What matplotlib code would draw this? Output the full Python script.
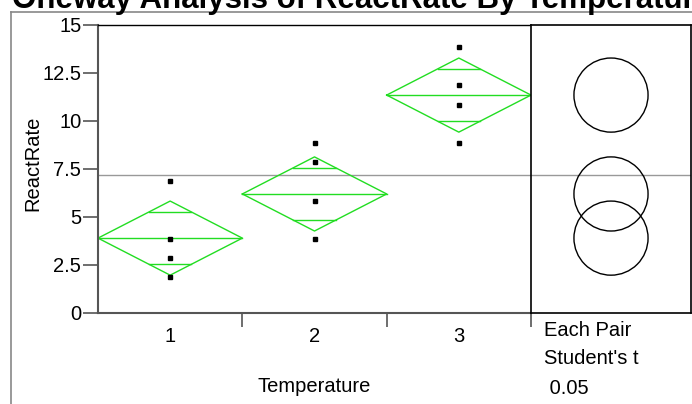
import matplotlib.pyplot as plt
from matplotlib.lines import Line2D
from matplotlib.patches import Circle
import numpy as np

plt.rcParams['font.family'] = ['Liberation Sans', 'DejaVu Sans']

# Data
groups = ['1', '2', '3']
group_points = [
    [6.85, 3.85, 2.85, 1.85],
    [8.85, 7.85, 5.85, 3.85],
    [13.85, 11.85, 10.85, 8.85],
]
group_means = [3.9, 6.2, 11.35]
ci_half = 1.93
grand_mean = 7.2
yticks = [0, 2.5, 5, 7.5, 10, 12.5, 15]
ytick_labels = ['0', '2.5', '5', '7.5', '10', '12.5', '15']

W, H = 692, 404
fig = plt.figure(figsize=(W / 100, H / 100), dpi=100)

green = '#22dd22'
fs = 14.5

# main plot area
ax = fig.add_axes([98 / W, (H - 313) / H, (531 - 98) / W, 288 / H])
ax.set_xlim(0.5, 3.5)
ax.set_ylim(0, 15)

for i, (pts, m) in enumerate(zip(group_points, group_means)):
    xc = i + 1
    xs = [xc - 0.5, xc, xc + 0.5, xc, xc - 0.5]
    ys = [m, m + ci_half, m, m - ci_half, m]
    ax.plot(xs, ys, color=green, lw=1)
    ax.plot([xc - 0.5, xc + 0.5], [m, m], color=green, lw=1)
    d = ci_half / np.sqrt(2)
    w = 0.5 * (1 - 1 / np.sqrt(2))
    for s in (1, -1):
        ax.plot([xc - w, xc + w], [m + s * d, m + s * d], color=green, lw=1)
    ax.plot([xc] * len(pts), pts, 's', color='black', ms=3, ls='none')

ax.axhline(grand_mean, color='#999999', lw=1, zorder=0)

ax.set_yticks(yticks)
ax.set_yticklabels(ytick_labels, fontsize=fs)
ax.set_xticks([1.5, 2.5, 3.5])
ax.set_xticklabels([])
ax.set_xticks([1, 2, 3], minor=True)
ax.set_xticklabels(groups, minor=True, fontsize=fs)
ax.tick_params(axis='y', length=11, width=1.2, color='#555555', pad=1)
ax.tick_params(axis='x', which='major', length=10, width=1.2, color='#555555')
ax.tick_params(axis='x', which='minor', length=0, pad=10)

for side in ('left', 'bottom'):
    ax.spines[side].set_color('#555555')
    ax.spines[side].set_linewidth(1.5)
ax.spines['top'].set_color('black')
ax.spines['top'].set_linewidth(1)
ax.spines['right'].set_visible(False)

ax.set_ylabel('ReactRate', fontsize=fs, va='center')
ax.yaxis.set_label_coords((33 - 98) / 433, (313 - 163) / 288)
ax.set_xlabel('Temperature', fontsize=fs, va='center')
ax.xaxis.set_label_coords(0.5, (313 - 387) / 288)

# comparison circles panel
pw, ph = 160, 288
ax2 = fig.add_axes([531 / W, (H - 313) / H, pw / W, ph / H])
ax2.set_ylim(0, 15)
half = 15 * pw / ph / 2
ax2.set_xlim(-half, half)
ax2.axhline(grand_mean, color='#999999', lw=1, zorder=0)
for m in group_means:
    ax2.add_patch(Circle((0, m), ci_half, fill=False, ec='black', lw=1))
ax2.set_xticks([])
ax2.set_yticks([])
for s in ax2.spines.values():
    s.set_color('black')
    s.set_linewidth(1.2)

fig.text(544 / W, 1 - 331 / H, 'Each Pair', fontsize=fs, va='center', ha='left')
fig.text(544 / W, 1 - 358 / H, "Student's t", fontsize=fs, va='center', ha='left')
fig.text(544 / W, 1 - 388 / H, ' 0.05', fontsize=fs, va='center', ha='left')

# outer report frame
fig.add_artist(Line2D([11 / W, 11 / W], [0, 1 - 12 / H], color='#888888', lw=1.2))
fig.add_artist(Line2D([11 / W, 1], [1 - 12 / H, 1 - 12 / H], color='#888888', lw=1.2))

fig.text(12 / W, 1 - 8 / H, 'Oneway Analysis of ReactRate By Temperature',
         fontsize=22.5, fontweight='bold', va='baseline', ha='left')

fig.savefig('out.png', dpi=100)
